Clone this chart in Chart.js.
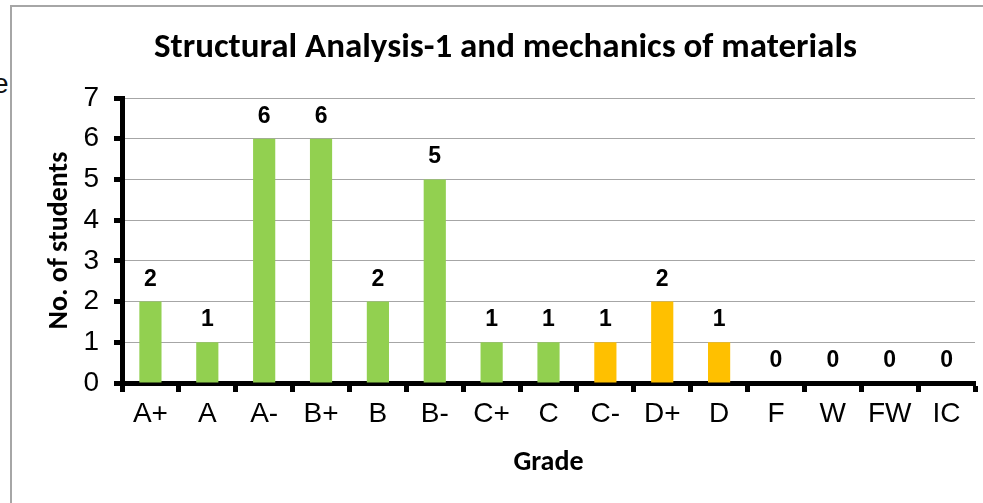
<!DOCTYPE html>
<html>
<head>
<meta charset="utf-8">
<script src="https://cdn.jsdelivr.net/npm/chart.js@4"></script>
<style>
  html, body { margin: 0; padding: 0; background: #fff; }
  body { width: 983px; height: 503px; position: relative; overflow: hidden; }
  #frame { position: absolute; left: 10px; top: 5px; width: 990px; height: 520px;
           border-left: 2px solid #a6a6a6; border-top: 2px solid #a6a6a6; }
  #cut { position: absolute; left: -7px; top: 68px; font: 28px 'Liberation Sans', Arial, sans-serif; color: #111; }
  #wrap { position: absolute; left: 0; top: 0; width: 983px; height: 503px; }
</style>
</head>
<body>
<div id="frame"></div>
<div id="cut">e</div>
<div id="wrap"><canvas id="gradeChart"></canvas></div>
<script>
// Du lieu bieu do
const grades = ['A+', 'A', 'A-', 'B+', 'B', 'B-', 'C+', 'C', 'C-', 'D+', 'D', 'F', 'W', 'FW', 'IC'];
const students = [2, 1, 6, 6, 2, 5, 1, 1, 1, 2, 1, 0, 0, 0, 0];
const yTicks = [0, 1, 2, 3, 4, 5, 6, 7];

const green = '#92D050';
const orange = '#FFC000';
const tickFont = { family: "'Liberation Sans', Arial, sans-serif", size: 28 };
const titleFamily = "Carlito, 'Open Sans', sans-serif";

// ve so tren dau cot
const barLabels = {
  id: 'barLabels',
  afterDatasetsDraw(chart) {
    const ctx = chart.ctx;
    const meta = chart.getDatasetMeta(0);
    ctx.save();
    ctx.font = "bold 23px 'Liberation Sans', Arial, sans-serif";
    ctx.fillStyle = '#000';
    ctx.textAlign = 'center';
    ctx.textBaseline = 'alphabetic';
    meta.data.forEach((bar, i) => {
      ctx.fillText(String(students[i]), bar.x, bar.y - 16);
    });
    ctx.restore();
  }
};

new Chart(document.getElementById('gradeChart'), {
  type: 'bar',
  data: {
    labels: grades,
    datasets: [{
      data: students,
      backgroundColor: students.map((v, i) => (i < 8 ? green : orange)),
      barPercentage: 0.39,
      categoryPercentage: 1
    }]
  },
  options: {
    responsive: true,
    maintainAspectRatio: false,
    animation: false,
    layout: { padding: { left: 36, right: 8, top: 0, bottom: 0 } },
    plugins: {
      legend: { display: false },
      tooltip: { enabled: false },
      title: {
        display: true,
        text: 'Structural Analysis-1 and mechanics of materials',
        color: '#000',
        font: { family: titleFamily, size: 35, weight: 'bold', lineHeight: 1.2 },
        padding: { top: 27, bottom: 29 }
      }
    },
    scales: {
      x: {
        border: { display: true, color: '#000', width: 5 },
        grid: {
          offset: true,
          drawOnChartArea: false,
          drawTicks: true,
          tickLength: 9,
          tickWidth: 5,
          tickColor: '#000'
        },
        ticks: { color: '#000', font: tickFont, padding: 5, maxRotation: 0, autoSkip: false },
        title: {
          display: true,
          text: 'Grade',
          color: '#000',
          font: { family: titleFamily, size: 28, weight: 'bold', lineHeight: 1.2 },
          padding: { top: 0, bottom: 23 }
        },
        afterFit(scale) { scale.height = 120; }
      },
      y: {
        min: 0,
        max: 7,
        border: { display: true, color: '#000', width: 5 },
        grid: {
          color: '#a6a6a6',
          lineWidth: 1,
          tickLength: 8,
          tickWidth: 5,
          tickColor: '#000'
        },
        afterBuildTicks(scale) { scale.ticks = yTicks.map(v => ({ value: v })); },
        ticks: { color: '#000', font: tickFont, padding: 15 },
        title: {
          display: true,
          text: 'No. of students',
          color: '#000',
          font: { family: titleFamily, size: 28, weight: 'bold', lineHeight: 1.2 },
          padding: { top: 7, bottom: 0 }
        },
        afterFit(scale) { scale.width = 86; }
      }
    }
  },
  plugins: [barLabels]
});
</script>
</body>
</html>
